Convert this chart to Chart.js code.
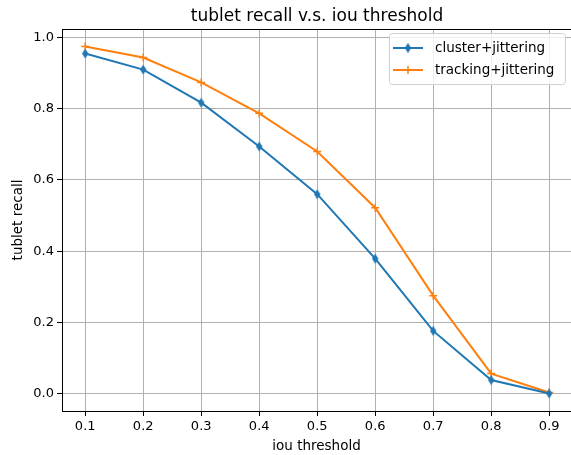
<!DOCTYPE html>
<html>
<head>
<meta charset="utf-8">
<script src="https://cdn.jsdelivr.net/npm/chart.js@4.4.0/dist/chart.umd.min.js"></script>
<style>
  html, body { margin: 0; padding: 0; background: #fff; overflow: hidden; }
  #wrap { width: 571px; height: 455px; }
</style>
</head>
<body>
<div id="wrap"><canvas id="chart" width="571" height="455"></canvas></div>
<script>
// data
const iouThresholds = [0.1, 0.2, 0.3, 0.4, 0.5, 0.6, 0.7, 0.8, 0.9]
const clusterRecall = [0.955, 0.910, 0.817, 0.694, 0.560, 0.379, 0.176, 0.038, 0.000]
const trackingRecall = [0.975, 0.944, 0.874, 0.787, 0.680, 0.522, 0.275, 0.056, 0.003]
const xTicks = [0.1, 0.2, 0.3, 0.4, 0.5, 0.6, 0.7, 0.8, 0.9]
const yTicks = [0.0, 0.2, 0.4, 0.6, 0.8, 1.0]
const chartTitle = 'tublet recall v.s. iou threshold'

const BLUE = '#1f77b4'
const ORANGE = '#ff7f0e'
const FONT = 'DejaVu Sans'

// thin diamond marker like matplotlib 'd'
function thinDiamond(color) {
    const c = document.createElement('canvas')
    c.width = 8
    c.height = 11
    const g = c.getContext('2d')
    g.fillStyle = color
    g.beginPath()
    g.moveTo(4, 0.5)
    g.lineTo(7.2, 5.5)
    g.lineTo(4, 10.5)
    g.lineTo(0.8, 5.5)
    g.closePath()
    g.fill()
    return c
}
const diamond = thinDiamond(BLUE)

const toPoints = (ys) => iouThresholds.map((x, i) => ({ x: x, y: ys[i] }))

// title centred on the (uncropped) axes, top spine and the legend
const framePlugin = {
    id: 'frame',
    afterDraw(chart) {
        const ctx = chart.ctx
        const a = chart.chartArea
        ctx.save()
        ctx.fillStyle = '#000'
        ctx.font = '17px ' + FONT
        ctx.textAlign = 'center'
        ctx.textBaseline = 'alphabetic'
        ctx.fillText(chartTitle, 317, 21)

        ctx.strokeStyle = '#000'
        ctx.lineWidth = 1
        ctx.beginPath()
        ctx.moveTo(a.left, a.top + 0.5)
        ctx.lineTo(a.right, a.top + 0.5)
        ctx.stroke()

        // legend, upper right of the axes
        const w = 176, h = 51
        const lx = 389, ly = a.top + 4
        ctx.fillStyle = 'rgba(255,255,255,0.8)'
        ctx.strokeStyle = '#d0d0d0'
        ctx.beginPath()
        ctx.roundRect(lx + 0.5, ly + 0.5, w, h, 3)
        ctx.fill()
        ctx.stroke()
        ctx.font = '13.5px ' + FONT
        ctx.textAlign = 'left'
        ctx.textBaseline = 'middle'
        chart.data.datasets.forEach((ds, i) => {
            const y = ly + 15 + i * 22
            ctx.strokeStyle = ds.borderColor
            ctx.lineWidth = 2
            ctx.beginPath()
            ctx.moveTo(lx + 4, y)
            ctx.lineTo(lx + 34, y)
            ctx.stroke()
            if (i === 0) {
                ctx.drawImage(diamond, lx + 19 - 4, y - 5.5)
            } else {
                ctx.lineWidth = 1.5
                ctx.beginPath()
                ctx.moveTo(lx + 19, y - 4)
                ctx.lineTo(lx + 19, y + 4)
                ctx.stroke()
            }
            ctx.fillStyle = '#000'
            ctx.fillText(ds.label, lx + 46, y)
        })
        ctx.restore()
    }
}

new Chart(document.getElementById('chart'), {
    type: 'line',
    data: {
        datasets: [
            {
                label: 'cluster+jittering',
                data: toPoints(clusterRecall),
                borderColor: BLUE,
                backgroundColor: BLUE,
                borderWidth: 2,
                pointStyle: diamond,
                pointRadius: 4,
                tension: 0,
            },
            {
                label: 'tracking+jittering',
                data: toPoints(trackingRecall),
                borderColor: ORANGE,
                backgroundColor: ORANGE,
                borderWidth: 2,
                pointStyle: 'cross',
                pointRadius: 4,
                pointBorderWidth: 1.5,
                tension: 0,
            }
        ]
    },
    options: {
        responsive: false,
        animation: false,
        devicePixelRatio: 1,
        layout: { autoPadding: false, padding: { left: 0, right: 0, top: 29, bottom: 0 } },
        plugins: {
            legend: { display: false },
            tooltip: { enabled: false },
            title: { display: false }
        },
        scales: {
            x: {
                type: 'linear',
                min: 0.06,
                max: 0.9376,
                afterBuildTicks: (scale) => { scale.ticks = xTicks.map(v => ({ value: v })) },
                afterFit: (scale) => {
                    scale.height = 44
                    scale.paddingLeft = 0
                    scale.paddingRight = 0
                },
                ticks: {
                    color: '#000',
                    font: { family: FONT, size: 13 },
                    padding: 3,
                    maxRotation: 0,
                    callback: (v) => v.toFixed(1)
                },
                grid: { color: '#b0b0b0', lineWidth: 1, tickColor: '#000', tickLength: 5 },
                border: { color: '#000', width: 1 },
                title: {
                    display: true,
                    text: 'iou threshold',
                    color: '#000',
                    font: { family: FONT, size: 13.5 },
                    padding: { top: 4, bottom: 0 }
                }
            },
            y: {
                type: 'linear',
                min: -0.049,
                max: 1.024,
                afterBuildTicks: (scale) => { scale.ticks = yTicks.map(v => ({ value: v })) },
                afterFit: (scale) => { scale.width = 62 },
                ticks: {
                    color: '#000',
                    font: { family: FONT, size: 13 },
                    padding: 3,
                    callback: (v) => v.toFixed(1)
                },
                grid: { color: '#b0b0b0', lineWidth: 1, tickColor: '#000', tickLength: 5 },
                border: { color: '#000', width: 1 },
                title: {
                    display: true,
                    text: 'tublet recall',
                    color: '#000',
                    font: { family: FONT, size: 13.5 },
                    padding: { top: 10, bottom: 2 }
                }
            }
        }
    },
    plugins: [framePlugin]
})
</script>
</body>
</html>
